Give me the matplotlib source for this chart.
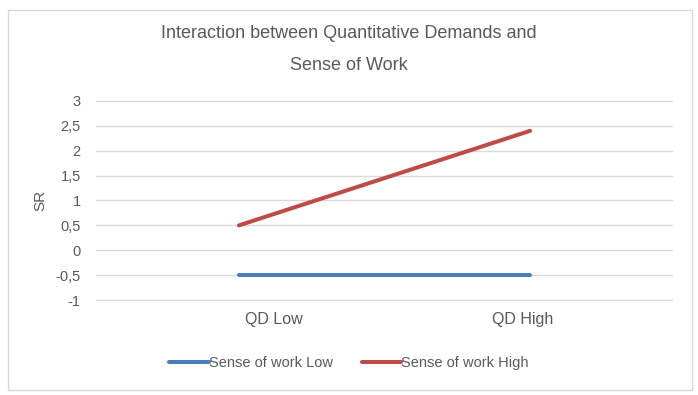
import matplotlib.pyplot as plt
from matplotlib.patches import Rectangle

# Data
categories = ['QD Low', 'QD High']
sense_low = [-0.5, -0.5]
sense_high = [0.5, 2.4]
series_names = ['Sense of work Low', 'Sense of work High']
y_ticks = [-1, -0.5, 0, 0.5, 1, 1.5, 2, 2.5, 3]

font = ['Liberation Sans', 'DejaVu Sans']
grey = '#595959'

fig = plt.figure(figsize=(6.98, 3.95), dpi=100)
fig.patches.append(Rectangle((8 / 698, 1 - 390 / 395), 684 / 698, 380 / 395,
                             transform=fig.transFigure, fill=False,
                             edgecolor='#d9d9d9', linewidth=1))

ax = fig.add_axes([96 / 698, 1 - 301 / 395, 577 / 698, 201 / 395])
x = list(range(len(categories)))
ax.plot(x, sense_low, color='#4a7ebb', linewidth=2.9, solid_capstyle='round',
        label=series_names[0], zorder=3)
ax.plot(x, sense_high, color='#be4b48', linewidth=2.9, solid_capstyle='round',
        label=series_names[1], zorder=3)

ax.set_xlim(-0.491, 1.491)
ax.set_ylim(-1.02, 3.02)
ax.set_yticks(y_ticks)
ax.set_yticklabels([f'{v:g}'.replace('.', ',') for v in y_ticks],
                   family=font, fontsize=10.5, color=grey)
# Excel places the category labels slightly off the data points
ax.set_xticks([x[0] + 35 / 291, x[1] - 7 / 291])
ax.set_xticklabels(categories, family=font, fontsize=11.5, color=grey)
ax.tick_params(axis='both', length=0)
ax.tick_params(axis='y', pad=11)
ax.tick_params(axis='x', pad=8)
ax.yaxis.grid(True, color='#d9d9d9', linewidth=1)
ax.set_axisbelow(True)
for s in ax.spines.values():
    s.set_visible(False)
ax.set_ylabel('SR', family=font, fontsize=11, color=grey)
ax.yaxis.set_label_coords(-0.085, 0.5)

fig.text(0.5, 1 - 33 / 395, 'Interaction between Quantitative Demands and',
         ha='center', va='center', family=font, fontsize=13, color=grey)
fig.text(0.5, 1 - 65 / 395, 'Sense of Work',
         ha='center', va='center', family=font, fontsize=13, color=grey)

leg = fig.legend(loc='center', bbox_to_anchor=(0.5, 1 - 363 / 395), ncol=2,
                 frameon=False, handlelength=2.7, handletextpad=0.0,
                 columnspacing=2.0, prop={'family': font, 'size': 10.5})
for t in leg.get_texts():
    t.set_color(grey)

fig.savefig('out.png', dpi=100)
